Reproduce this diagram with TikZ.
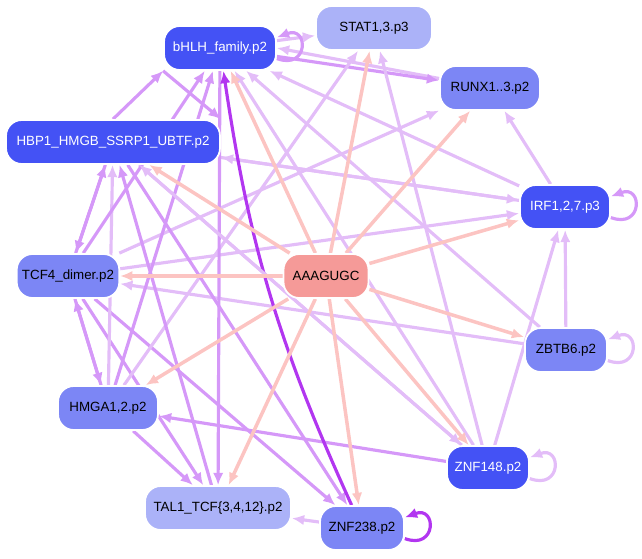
\documentclass[tikz,border=0pt]{standalone}
\usepackage{fontspec}
\setmainfont{Liberation Sans}
\usetikzlibrary{arrows.meta}
\pgfdeclarelayer{edges}
\pgfsetlayers{edges,main}
\definecolor{tfdark}{HTML}{4452F5}
\definecolor{tfmid}{HTML}{7C86F5}
\definecolor{tflight}{HTML}{ABB2F8}
\definecolor{mirpink}{HTML}{F59A98}
\definecolor{edgepink}{HTML}{FCC4C2}
\definecolor{edgelav}{HTML}{E3BDF8}
\definecolor{edgepur}{HTML}{D598F8}
\definecolor{edgedark}{HTML}{B236F0}
\tikzset{
  tf/.style={draw=white,line width=1pt,rounded corners=9pt,minimum height=0.88cm,inner xsep=3pt,font=\fontsize{7.6}{9}\selectfont},
  mir/.style={tf,fill=mirpink},
  pk/.style={edgepink,line width=2pt,-{Latex[length=7pt,width=6pt]}},
  lv/.style={edgelav,line width=1.8pt,-{Latex[length=7pt,width=6pt]}},
  pu/.style={edgepur,line width=1.8pt,-{Latex[length=7pt,width=6pt]}},
  dk/.style={edgedark,line width=1.8pt,-{Latex[length=7pt,width=6pt]}}
}
\newcommand{\selfloop}[2]{\draw[#1] ([yshift=-6pt]#2.east) .. controls +(32,12) and +(32,-12) .. ([yshift=6pt]#2.east);}
\begin{document}
\begin{tikzpicture}[x=0.02cm,y=-0.02cm]
        \useasboundingbox (0,0) rectangle (642,558);
        % transcription factors
        \node[tf,fill=tflight,minimum width=2.32cm] (stat) at (374,28) {STAT1,3.p3};
        \node[tf,fill=tfdark,text=white,minimum width=2.24cm] (bhlh) at (220,48) {bHLH\_family.p2};
        \node[tf,fill=tfmid,minimum width=2cm] (runx) at (490,88) {RUNX1..3.p2};
        \node[tf,fill=tfdark,text=white,minimum width=4.28cm] (hbp) at (113,142) {HBP1\_HMGB\_SSRP1\_UBTF.p2};
        \node[tf,fill=tfdark,text=white,minimum width=1.8cm] (irf) at (565,207) {IRF1,2,7.p3};
        \node[tf,fill=tfmid,minimum width=2.04cm] (tcf) at (68,276) {TCF4\_dimer.p2};
        \node[mir,minimum width=1.7cm] (mir) at (326,276) {AAAGUGC};
        \node[tf,fill=tfmid,minimum width=1.64cm] (zbtb) at (566,350) {ZBTB6.p2};
        \node[tf,fill=tfmid,minimum width=2cm] (hmga) at (108,408) {HMGA1,2.p2};
        \node[tf,fill=tfdark,text=white,minimum width=1.64cm] (znfa) at (488,468) {ZNF148.p2};
        \node[tf,fill=tflight,minimum width=2.92cm] (tal) at (218,508) {TAL1\_TCF\{3,4,12\}.p2};
        \node[tf,fill=tfmid,minimum width=1.68cm] (znfb) at (362,528) {ZNF238.p2};

        \begin{pgfonlayer}{edges}
        % regulation among factors
        \draw[lv] (runx) -- (bhlh.east);
        \draw[pu] (bhlh) -- (runx);
        \draw[pu] (hbp.north) to (bhlh.south west);
        \draw[pu] (bhlh.south west) to (hbp.north east);
        \draw[lv] (irf) -- (hbp);
        \draw[lv] (irf) -- (bhlh);
        \draw[lv] (zbtb) -- (bhlh);
        \draw[lv] (znfa) -- (bhlh);
        \draw[lv] (znfa) -- (irf);
        \draw[lv] (znfa) -- (stat);
        \draw[pu] (znfa) -- (hmga);
        \draw[lv] (zbtb) -- (irf);
        \draw[lv] (irf) -- (runx);
        \draw[lv] (hbp) -- (irf);
        \draw[lv] (hbp) -- (znfa);
        \draw[lv] (tcf) -- (runx);
        \draw[lv] (tcf) -- (irf);
        \draw[lv] (zbtb) -- (tcf);
        \draw[pu] (tcf) -- (hbp);
        \draw[pu] (hbp) -- (tcf);
        \draw[pu] (tcf) -- (hmga);
        \draw[pu] (hmga) -- (tcf);
        \draw[pu] (tcf) -- (znfb);
        \draw[pu] (tcf) -- (tal);
        \draw[pu] (hmga) -- (tal);
        \draw[lv] (hmga) -- (stat);
        \draw[pu] (hmga) -- (bhlh);
        \draw[lv] (hmga) -- (hbp);
        \draw[pu] (tal) -- (hbp);
        \draw[pu] (bhlh) -- (tal);
        \draw[pu] (hbp) -- (znfb);
        \draw[lv] (znfb) -- (tal);
        \draw[pu] (tcf) -- (bhlh);
        \draw[dk] (znfb) to[bend left=8] (bhlh);
        \draw[lv] (znfa) -- (hbp);
        \draw[lv] (bhlh) -- (stat);

        % self loops
        \selfloop{pu}{bhlh}
        \selfloop{pu}{irf}
        \selfloop{lv}{zbtb}
        \selfloop{lv}{znfa}
        \selfloop{dk}{znfb}

        % targets of the miRNA
        \foreach \t in {stat,bhlh,runx,hbp,irf,tcf,zbtb,hmga,znfa,tal,znfb}
          \draw[pk] (mir) -- (\t);
        \end{pgfonlayer}
\end{tikzpicture}
\end{document}
